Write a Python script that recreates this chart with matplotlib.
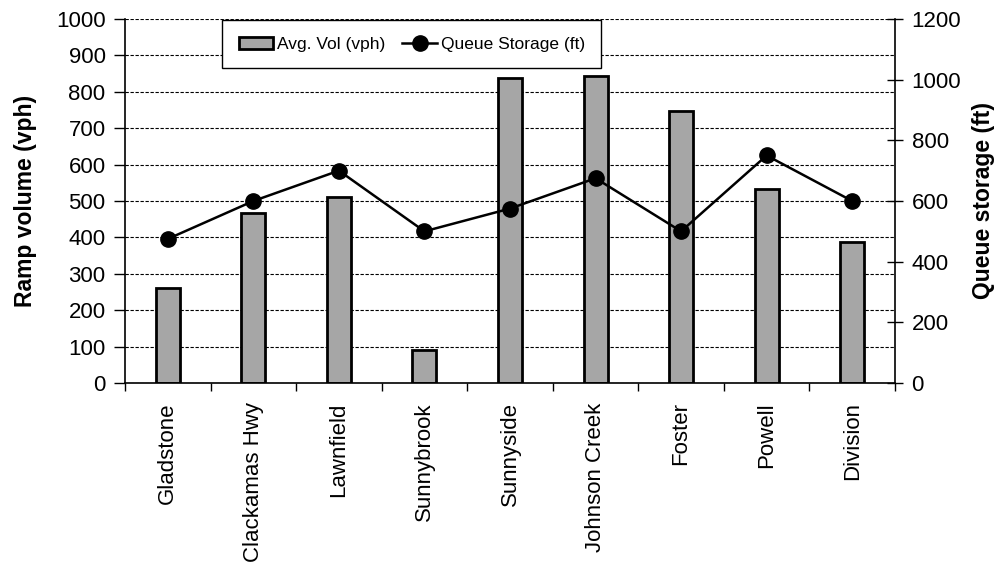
import matplotlib
matplotlib.use("Agg")
import matplotlib.pyplot as plt
import numpy as np

categories = ["Gladstone", "Clackamas Hwy", "Lawnfield", "Sunnybrook", "Sunnyside",
              "Johnson Creek", "Foster", "Powell", "Division"]
avg_vol = [262, 467, 511, 91, 838, 843, 747, 533, 387]
queue_storage = [475, 600, 700, 500, 575, 675, 500, 750, 600]

plt.rcParams['font.family'] = ['Liberation Sans', 'DejaVu Sans']

fig = plt.figure(figsize=(10.05, 5.81), dpi=100)
ax = fig.add_axes([0.1244, 0.3408, 0.7661, 0.6265])
x = np.arange(len(categories))

ax.set_xlim(-0.5, len(categories) - 0.5)
ax.set_ylim(0, 1000)
ax.set_yticks(np.arange(0, 1001, 100))
ax.yaxis.grid(True, linestyle=(0, (3, 1.5)), color='black', linewidth=0.8)
ax.set_axisbelow(True)

bars = ax.bar(x, avg_vol, width=0.28, color='#a6a6a6', edgecolor='black',
              linewidth=2.0, label='Avg. Vol (vph)', zorder=2)

ax.set_xticks(x)
ax.set_xticklabels(categories, rotation=90, fontsize=16)
ax.tick_params(axis='x', which='major', length=0, pad=14)
ax.set_xticks(np.arange(-0.5, len(categories), 1), minor=True)
ax.tick_params(axis='x', which='minor', length=6, width=1, direction='out')
ax.tick_params(axis='y', labelsize=16, length=8, width=1, direction='out', pad=6)
ax.set_ylabel('Ramp volume (vph)', fontsize=16.5, fontweight='bold', labelpad=14)
ax.spines['top'].set_visible(False)
ax.spines['right'].set_visible(False)
for s in ['left', 'bottom']:
    ax.spines[s].set_linewidth(1.2)

ax2 = ax.twinx()
ax2.set_ylim(0, 1200)
ax2.set_yticks(np.arange(0, 1201, 200))
line, = ax2.plot(x, queue_storage, color='black', linewidth=1.8, marker='o',
                 markersize=11, label='Queue Storage (ft)', zorder=3)
ax2.tick_params(axis='y', labelsize=16, length=12, width=1, direction='inout', pad=6)
ax2.set_ylabel('Queue storage (ft)', fontsize=16.5, fontweight='bold', labelpad=8)
ax2.spines['top'].set_visible(False)
ax2.spines['left'].set_visible(False)
ax2.spines['bottom'].set_visible(False)
ax2.spines['right'].set_linewidth(1.2)

leg = ax2.legend([bars, line], ['Avg. Vol (vph)', 'Queue Storage (ft)'],
                 loc='upper left', bbox_to_anchor=(0.126, 0.997), ncol=2,
                 prop={'size': 12.5},
                 frameon=True, fancybox=False, edgecolor='black',
                 framealpha=1, borderpad=0.95, columnspacing=1.0, handlelength=2.0,
                 handletextpad=0.2, borderaxespad=0)
leg.get_frame().set_linewidth(1.0)

fig.savefig('out.png', dpi=100)
